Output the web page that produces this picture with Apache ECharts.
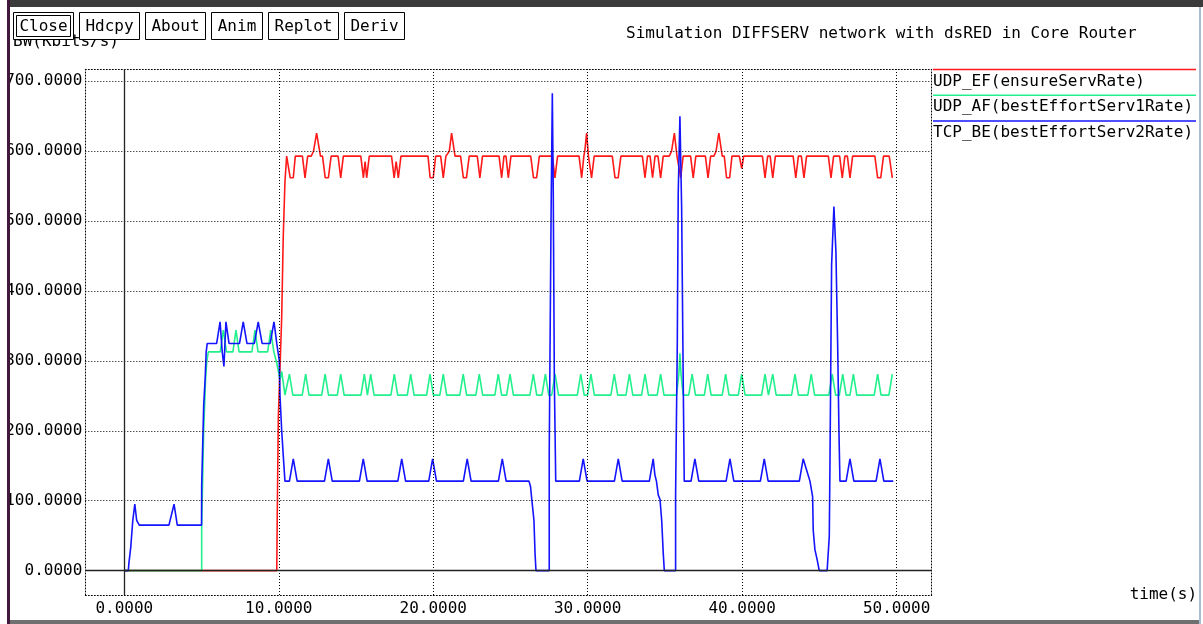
<!DOCTYPE html>
<html>
<head>
<meta charset="utf-8">
<title>Simulation DIFFSERV network with dsRED in Core Router</title>
<script src="https://cdn.jsdelivr.net/npm/echarts@6/dist/echarts.min.js"></script>
<style>
  html, body { margin: 0; padding: 0; background: #fff; }
  #main { width: 1203px; height: 624px; }
</style>
</head>
<body>
<div id="main"></div>
<script>
// axis ticks (time in s, bandwidth in Kbits/s)
const tickTimes = [0, 10, 20, 30, 40, 50];
const tickRates = [0, 100, 200, 300, 400, 500, 600, 700];

const buttonLabels = ['Close', 'Hdcpy', 'About', 'Anim', 'Replot', 'Deriv'];
const seriesNames = ['UDP_EF(ensureServRate)', 'UDP_AF(bestEffortServ1Rate)', 'TCP_BE(bestEffortServ2Rate)'];
const seriesColors = ['#ff1a1a', '#22f08c', '#1414ff'];

// UDP_EF as [time, rate]
const efRate = [
  [0, 0], [9.87, 0], [9.9, 75], [9.97, 218], [10.19, 363], [10.29, 478], [10.4, 556], [10.51, 593],
  [10.62, 593], [10.74, 562], [10.94, 562], [11.07, 593],
  [11.53, 593], [11.7, 562], [11.87, 593],
  [12.1, 593], [12.25, 600], [12.45, 626], [12.7, 593],
  [12.83, 593], [13.01, 562], [13.21, 562], [13.39, 593],
  [13.84, 593], [14.01, 562], [14.18, 593],
  [15.31, 593], [15.48, 562], [15.59, 585], [15.69, 562], [15.86, 593],
  [17.3, 593], [17.47, 562], [17.6, 585], [17.74, 562], [17.91, 593],
  [19.66, 593], [19.8, 562], [20.0, 562], [20.16, 593],
  [20.48, 593], [20.65, 562], [20.82, 593],
  [20.91, 593], [21.04, 600], [21.19, 626], [21.41, 593],
  [21.77, 593], [21.95, 562], [22.15, 562], [22.33, 593],
  [22.85, 593], [23.02, 562], [23.19, 593],
  [24.26, 593], [24.43, 562], [24.58, 593],
  [24.71, 593], [24.86, 562], [25.03, 593],
  [26.31, 593], [26.49, 562], [26.69, 562], [26.87, 593],
  [27.71, 593], [27.88, 562], [28.05, 593],
  [29.44, 593], [29.61, 562], [29.75, 593],
  [29.81, 600], [29.93, 626], [30.05, 593],
  [30.1, 593], [30.25, 562], [30.42, 593],
  [31.59, 593], [31.77, 562], [31.97, 562], [32.15, 593],
  [33.54, 593], [33.71, 562], [33.87, 593],
  [34.04, 593], [34.2, 562], [34.36, 593],
  [34.55, 593], [34.72, 562], [34.89, 593],
  [35.28, 593], [35.43, 600], [35.61, 626], [35.78, 593],
  [35.88, 593], [36.02, 562], [36.18, 593],
  [36.66, 593], [36.83, 562], [37.0, 593],
  [37.62, 593], [37.79, 562], [37.96, 593],
  [38.17, 593], [38.31, 600], [38.49, 626], [38.71, 593],
  [38.84, 593], [38.99, 562], [39.19, 562], [39.34, 593],
  [39.82, 593], [39.97, 575], [40.1, 593],
  [41.31, 593], [41.48, 562], [41.65, 593],
  [41.81, 593], [41.98, 562], [42.15, 593],
  [43.3, 593], [43.47, 562], [43.64, 593],
  [43.83, 593], [44.0, 562], [44.17, 593],
  [45.58, 593], [45.75, 562], [45.92, 593],
  [46.31, 593], [46.48, 562], [46.65, 593],
  [46.81, 593], [46.98, 562], [47.15, 593],
  [48.59, 593], [48.77, 562], [48.97, 562], [49.15, 593],
  [49.52, 593], [49.72, 562]
];

// UDP_AF
const afRate = [
  [0, 0], [5.01, 0], [5.01, 63], [5.1, 63], [5.14, 201], [5.26, 273], [5.34, 299], [5.44, 313],
  [6.21, 313], [6.41, 344], [6.61, 313],
  [7.03, 313], [7.23, 344], [7.43, 313],
  [8.26, 313], [8.46, 344], [8.66, 313],
  [9.28, 313], [9.48, 344], [9.68, 313],
  [9.8, 313], [9.87, 297], [10.08, 273], [10.19, 285], [10.4, 251],
  [10.47, 251], [10.69, 281], [10.91, 251],
  [11.52, 251], [11.74, 281], [11.96, 251],
  [12.78, 251], [13.0, 281], [13.22, 251],
  [13.79, 251], [14.01, 281], [14.23, 251],
  [15.32, 251], [15.54, 281], [15.74, 251], [15.95, 281], [16.17, 251],
  [17.26, 251], [17.48, 281], [17.7, 251],
  [18.32, 251], [18.54, 281], [18.76, 251],
  [19.57, 251], [19.79, 281], [20.01, 251],
  [20.43, 251], [20.65, 281], [20.87, 251],
  [21.72, 251], [21.94, 281], [22.16, 251],
  [22.76, 251], [22.98, 281], [23.2, 251],
  [23.99, 251], [24.21, 281], [24.43, 251],
  [24.75, 251], [24.97, 281], [25.19, 251],
  [26.26, 251], [26.48, 281], [26.7, 251],
  [27.04, 251], [27.26, 281], [27.48, 251],
  [27.67, 251], [27.89, 281], [28.11, 251],
  [29.33, 251], [29.55, 281], [29.77, 251],
  [29.99, 251], [30.21, 281], [30.43, 251],
  [31.5, 251], [31.72, 281], [31.94, 251],
  [32.48, 251], [32.7, 281], [32.92, 251],
  [33.49, 251], [33.71, 281], [33.93, 251],
  [34.5, 251], [34.72, 281], [34.94, 251],
  [35.75, 251], [35.9, 281], [35.97, 311], [36.04, 281], [36.18, 251],
  [36.54, 251], [36.76, 281], [36.98, 251],
  [37.55, 251], [37.77, 281], [37.99, 251],
  [38.71, 251], [38.93, 281], [39.15, 251],
  [39.75, 251], [39.97, 281], [40.19, 251],
  [41.26, 251], [41.48, 281], [41.7, 251],
  [41.76, 251], [41.98, 281], [42.2, 251],
  [43.2, 251], [43.42, 281], [43.64, 251],
  [44.25, 251], [44.47, 281], [44.69, 251],
  [45.61, 251], [45.83, 281], [46.05, 251],
  [46.29, 251], [46.51, 281], [46.73, 251],
  [46.98, 251], [47.2, 281], [47.42, 251],
  [48.55, 251], [48.77, 281], [48.99, 251],
  [49.5, 251], [49.72, 281]
];

// TCP_BE
const beRate = [
  [0, 0], [0.26, 0], [0.3, 11], [0.42, 34], [0.55, 72], [0.68, 95], [0.8, 72], [0.97, 65],
  [2.89, 65], [3.22, 95], [3.43, 65],
  [5.0, 65], [5.01, 122], [5.1, 122], [5.14, 237], [5.24, 277], [5.3, 313], [5.37, 325],
  [5.98, 325], [6.2, 356], [6.34, 313], [6.45, 292], [6.58, 356], [6.78, 325],
  [7.46, 325], [7.7, 356], [7.94, 325],
  [8.42, 325], [8.67, 356], [8.92, 325],
  [9.44, 325], [9.69, 356], [9.87, 325], [10.03, 301], [10.08, 250], [10.19, 200], [10.29, 165], [10.4, 128],
  [10.69, 128], [10.94, 160], [11.19, 128],
  [12.96, 128], [13.21, 160], [13.46, 128],
  [15.22, 128], [15.47, 160], [15.72, 128],
  [17.71, 128], [17.96, 160], [18.21, 128],
  [19.71, 128], [19.96, 160], [20.21, 128],
  [21.95, 128], [22.2, 160], [22.45, 128],
  [24.22, 128], [24.47, 160], [24.72, 128],
  [26.2, 128], [26.3, 120], [26.37, 104], [26.52, 72], [26.59, 25], [26.65, 0],
  [27.51, 0], [27.51, 170], [27.61, 170], [27.63, 512], [27.71, 683], [27.77, 542], [27.84, 273], [27.93, 128],
  [29.46, 128], [29.71, 160], [29.96, 128],
  [31.73, 128], [31.98, 160], [32.23, 128],
  [33.99, 128], [34.24, 160], [34.35, 137], [34.45, 128], [34.57, 108], [34.68, 102], [34.79, 72], [34.89, 25], [34.96, 0],
  [35.69, 0], [35.69, 108], [35.76, 108], [35.8, 325], [35.86, 540], [35.97, 650], [36.08, 521], [36.19, 258], [36.25, 128],
  [36.69, 128], [36.94, 160], [37.19, 128],
  [38.96, 128], [39.21, 160], [39.46, 128],
  [41.18, 128], [41.43, 160], [41.68, 128],
  [43.7, 128], [43.95, 160], [44.17, 144], [44.39, 128], [44.56, 106], [44.6, 58], [44.71, 30], [44.86, 15], [44.99, 0],
  [45.5, 0], [45.64, 49], [45.68, 144], [45.79, 437], [45.94, 521], [46.07, 456], [46.18, 325], [46.27, 194], [46.33, 128],
  [46.73, 128], [46.98, 160], [47.23, 128],
  [48.67, 128], [48.92, 160], [49.17, 128],
  [49.78, 128]
];

const MONO = '"DejaVu Sans Mono", "Liberation Mono", monospace';
const CHAR_W = 9.63; // advance of one mono glyph at 16px

const chart = echarts.init(document.getElementById('main'));

// dotted grid + solid zero axes, drawn as mark lines under the data
const dotted = { color: '#000', width: 1, type: [1, 2] };
const solid = { color: '#222', width: 1.3, type: 'solid' };
const gridLines = tickTimes.filter(v => v !== 0).map(v => ({ xAxis: v, lineStyle: dotted }))
  .concat(tickRates.filter(v => v !== 0).map(v => ({ yAxis: v, lineStyle: dotted })))
  .concat([{ xAxis: 0, lineStyle: solid }, { yAxis: 0, lineStyle: solid }]);

// window chrome, buttons, y label and legend
const graphics = [];
graphics.push({ type: 'rect', shape: { x: 0, y: 0, width: 7, height: 624 }, style: { fill: '#fff' }, z: 100 });
graphics.push({ type: 'rect', shape: { x: 7, y: 0, width: 1196, height: 7 }, style: { fill: '#3b3b3b' }, z: 100 });
graphics.push({ type: 'rect', shape: { x: 7, y: 0, width: 3, height: 624 }, style: { fill: '#43183e' }, z: 101 });
graphics.push({ type: 'rect', shape: { x: 1199, y: 7, width: 2, height: 617 }, style: { fill: '#a9bcd6' }, z: 100 });
graphics.push({ type: 'rect', shape: { x: 10, y: 620, width: 1189, height: 4 }, style: { fill: '#707070' }, z: 100 });

graphics.push({
  type: 'text', z: 100,
  style: { text: 'BW(Kbits/s)', x: 13, y: 42, font: '16px ' + MONO, fill: '#000', align: 'left', verticalAlign: 'middle' }
});

let bx = 13;
buttonLabels.forEach((label, i) => {
  const w = Math.round(label.length * CHAR_W + 12);
  graphics.push({ type: 'rect', z: 110, shape: { x: bx + 0.5, y: 12.5, width: w, height: 27 }, style: { fill: '#fff', stroke: '#000', lineWidth: 1 } });
  if (i === 0) {
    graphics.push({ type: 'rect', z: 111, shape: { x: bx + 3.5, y: 15.5, width: w - 6, height: 21 }, style: { fill: 'none', stroke: '#000', lineWidth: 1 } });
  }
  graphics.push({ type: 'text', z: 112, style: { text: label, x: bx + w / 2 + 0.5, y: 27, font: '16px ' + MONO, fill: '#000', align: 'center', verticalAlign: 'middle' } });
  bx += w + 6;
});

seriesNames.forEach((name, i) => {
  const ly = 69.5 + i * 25.7;
  graphics.push({ type: 'line', z: 100, shape: { x1: 933, y1: ly, x2: 1196, y2: ly }, style: { stroke: seriesColors[i], lineWidth: 1.5 } });
  graphics.push({ type: 'text', z: 100, style: { text: name, x: 933, y: ly + 12, font: '16px ' + MONO, fill: '#000', align: 'left', verticalAlign: 'middle' } });
});

const labelFmt = v => Number(v).toFixed(4);

const option = {
  animation: false,
  backgroundColor: '#fff',
  title: {
    text: 'Simulation DIFFSERV network with dsRED in Core Router',
    left: 626, top: 25, padding: 0,
    textStyle: { fontFamily: MONO, fontSize: 16, fontWeight: 'normal', color: '#000', lineHeight: 18 }
  },
  grid: { left: 85.3, right: 271.3, top: 69.3, bottom: 29, containLabel: false },
  xAxis: [
    {
      type: 'value', min: -2.525, max: 52.27, position: 'bottom',
      axisLine: { show: true, onZero: false, lineStyle: dotted },
      axisTick: { show: false }, splitLine: { show: false },
      axisLabel: {
        customValues: tickTimes, formatter: labelFmt, margin: 14, verticalAlign: 'middle',
        fontFamily: MONO, fontSize: 16, color: '#000'
      },
      name: 'time(s)', nameLocation: 'end', nameGap: 198,
      nameTextStyle: { fontFamily: MONO, fontSize: 16, color: '#000', align: 'left', verticalAlign: 'middle', padding: [8, 0, 0, 0] }
    },
    {
      type: 'value', min: -2.525, max: 52.27, position: 'top',
      axisLine: { show: true, onZero: false, lineStyle: dotted },
      axisTick: { show: false }, splitLine: { show: false }, axisLabel: { show: false }
    }
  ],
  yAxis: [
    {
      type: 'value', min: -34.9, max: 717.2, position: 'left',
      axisLine: { show: true, onZero: false, lineStyle: dotted },
      axisTick: { show: false }, splitLine: { show: false },
      axisLabel: {
        customValues: tickRates, formatter: labelFmt, margin: 3,
        fontFamily: MONO, fontSize: 16, color: '#000'
      }
    },
    {
      type: 'value', min: -34.9, max: 717.2, position: 'right',
      axisLine: { show: true, onZero: false, lineStyle: dotted },
      axisTick: { show: false }, splitLine: { show: false }, axisLabel: { show: false }
    }
  ],
  graphic: { elements: graphics },
  series: [
    {
      type: 'line', data: [], z: 1, silent: true, showSymbol: false,
      markLine: { silent: true, symbol: ['none', 'none'], label: { show: false }, animation: false, data: gridLines }
    }
  ].concat([efRate, afRate, beRate].map((d, i) => ({
    name: seriesNames[i], type: 'line', data: d, xAxisIndex: 0, yAxisIndex: 0,
    showSymbol: false, symbol: 'none', silent: true, z: 3,
    lineStyle: { color: seriesColors[i], width: 1.6 },
    itemStyle: { color: seriesColors[i] }
  })))
};

chart.setOption(option);
</script>
</body>
</html>
